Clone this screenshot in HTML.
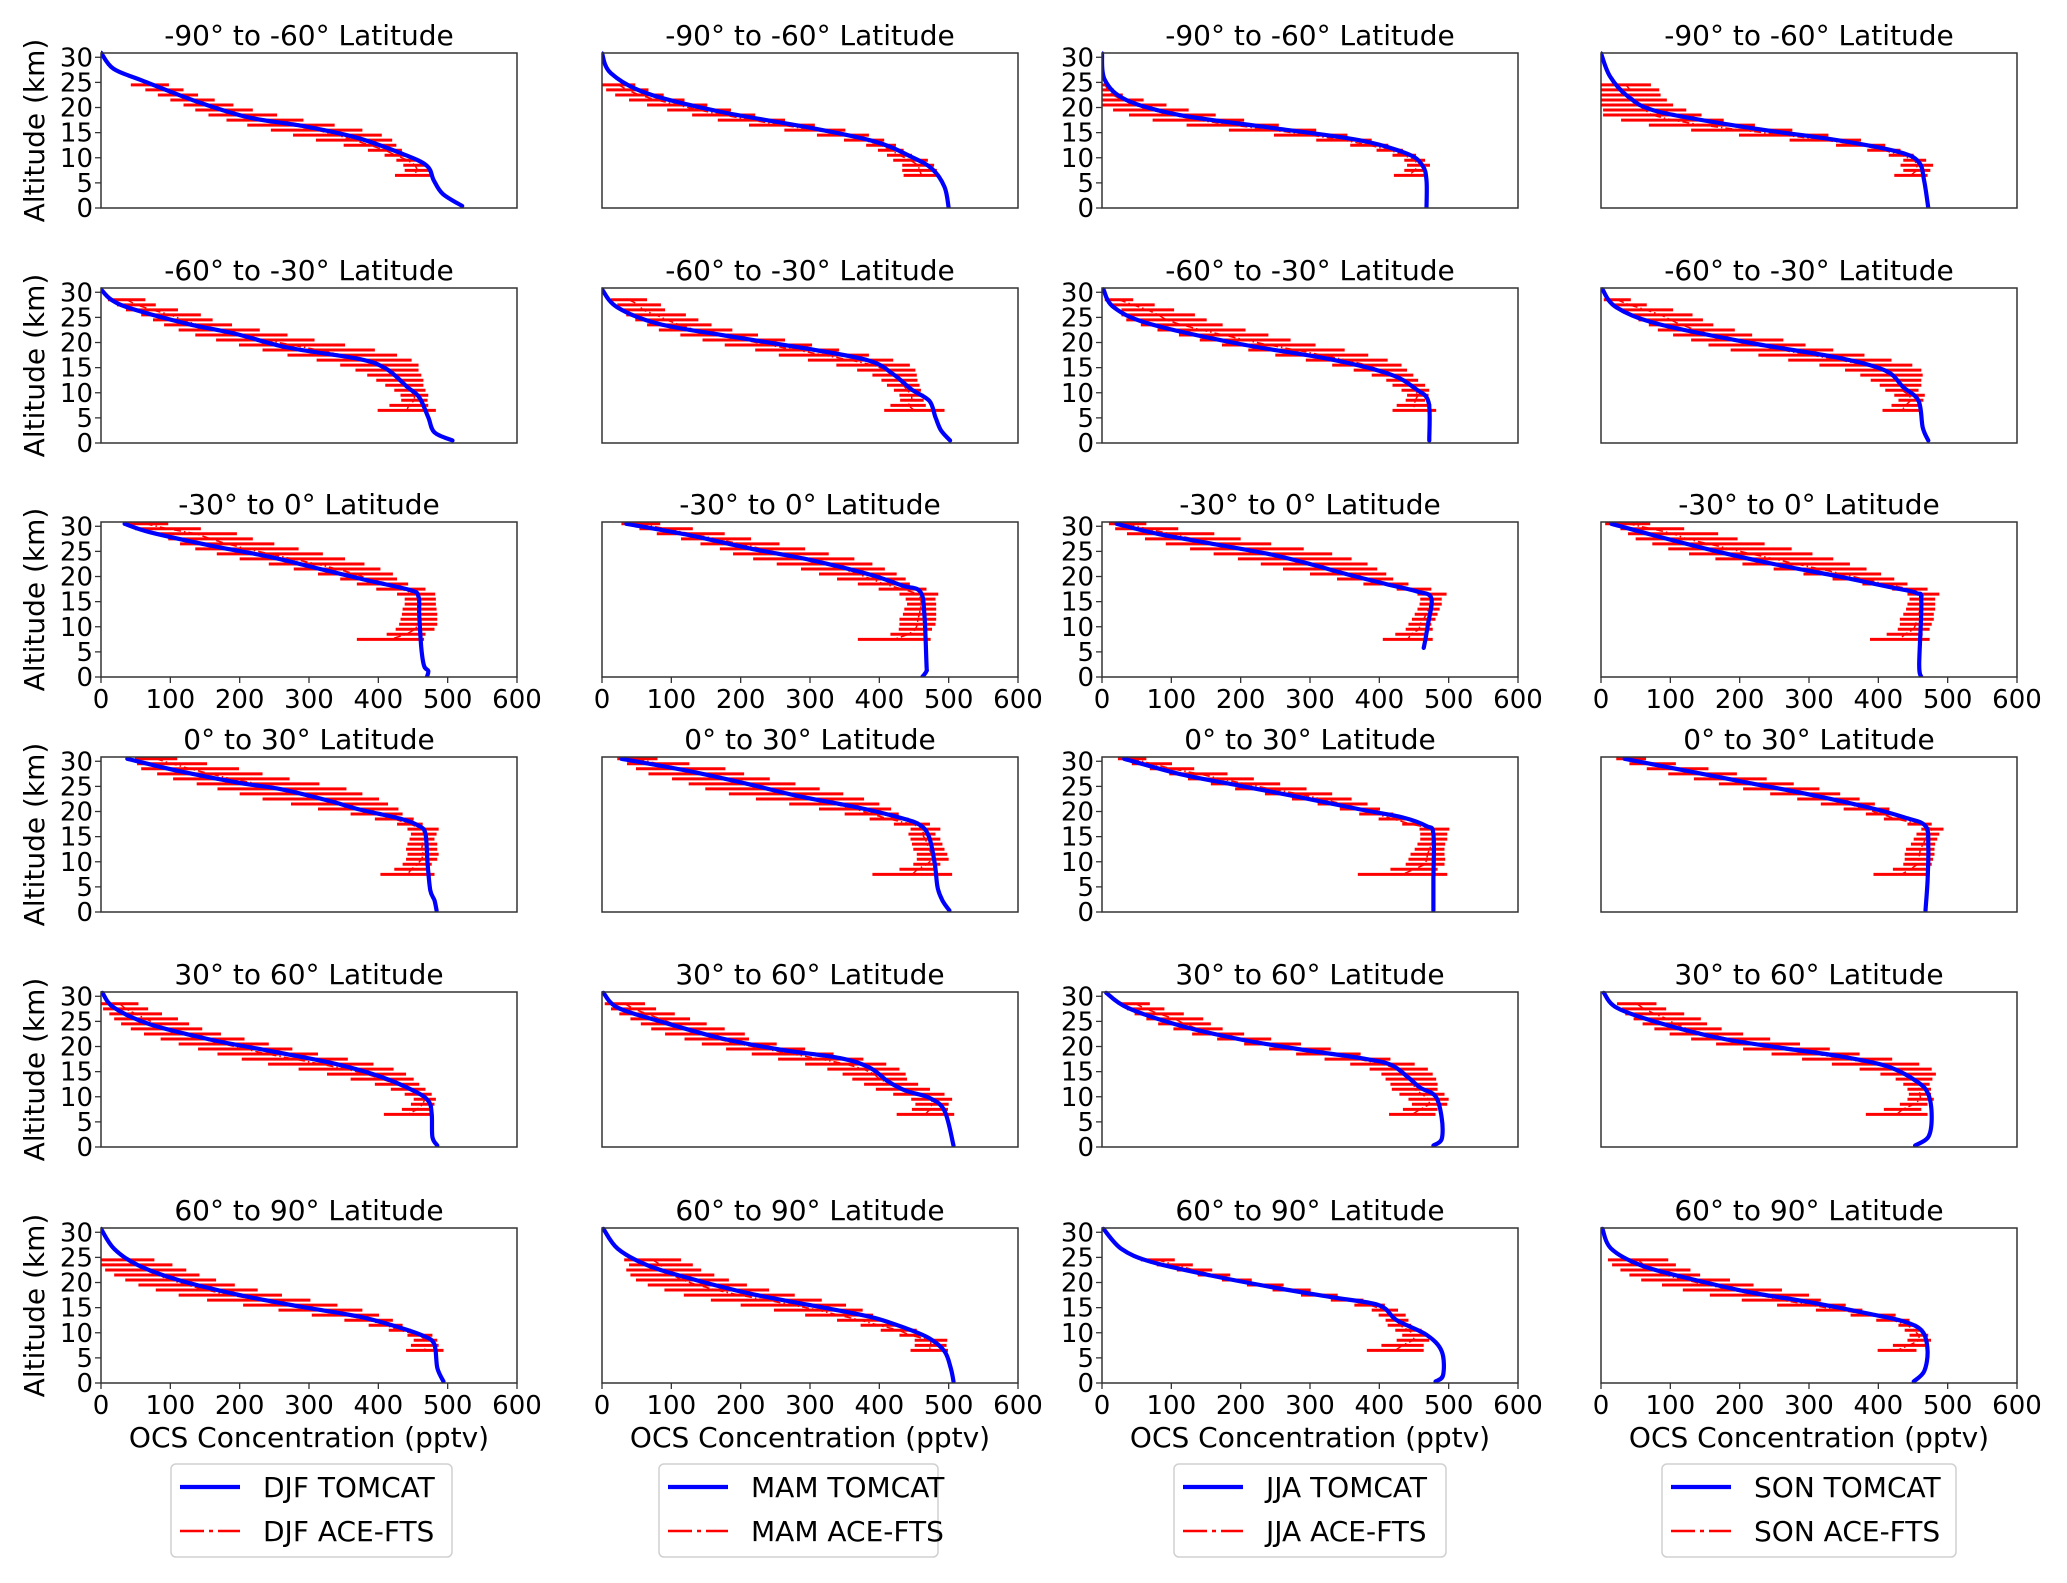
<!DOCTYPE html>
<html><head><meta charset="utf-8">
<style>
html,body{margin:0;padding:0;background:#fff;}
svg{display:block;font-family:"DejaVu Sans","Liberation Sans",sans-serif;}
</style></head>
<body>
<svg id="fig" width="2067" height="1583" viewBox="0 0 2067 1583" xmlns="http://www.w3.org/2000/svg"></svg>
<script>
// ---- data ----
const seasons = ["DJF","MAM","JJA","SON"];
const latBands = ["-90° to -60°","-60° to -30°","-30° to 0°","0° to 30°","30° to 60°","60° to 90°"];
const xTicks = [0,100,200,300,400,500,600];
const yTicks = [0,5,10,15,20,25,30];
const redTopAlt = [24.5,28.5,30.5,30.5,28.5,24.5];
const blueAlt = [
[30.9,27.7,25.4,21,18,16.3,14,10.7,8.4,5.5,2.8,0.4],
[30.8,26.8,22.8,19.2,16,13.2,10.2,7.8,4.2,0],
[30.8,25.5,21.5,18.5,16,13.5,10.8,8.5,5.5,0],
[30.8,26.2,22.2,19.2,16,13.5,11.2,9.2,5.5,0],
[30.6,28.5,26.7,23.7,21.7,19,16.7,14.7,11.1,9.1,5.1,2.1,0.5],
[30.6,27,23.7,21.4,18.7,16.4,13.7,10.7,8.4,5.1,2.5,0.5],
[30.6,27,23.7,19.7,16.7,13.7,10.7,8.1,0.5],
[30.6,27,23.7,20,17,14.4,11.1,8.4,3.1,0.5],
[30.5,28.8,26.2,23.9,21.6,19.3,17.3,16,12.4,5.8,2.2,1.2,0],
[30.5,28.2,25.6,23.3,20.4,18.2,17,12.4,2.5,1.2,0],
[30.5,28.5,26.5,24.5,22.5,20.5,18.5,17,15.7,10.4,5.8,1.2,0],
[30.5,27.9,24.9,22.3,20,17.8,16.7,15,2.5,0],
[30.5,28,25.7,24.4,22.1,20.4,18.5,17.1,15.5,9.6,4.3,2.3,0.3],
[30.5,28,25.4,23.1,20.8,18.8,17.3,14.8,9.6,4.9,2.3,0.3],
[30.5,27.4,25.1,22.8,20.4,18.8,17.1,15.5,6.3,0.3],
[30.5,28,25.7,23.4,20.8,18.8,17.1,12.9,6.3,0.3],
[30.7,27.7,24.4,21.4,19.1,16.8,14.2,11.2,9.2,6.6,2,0.3],
[30.7,27.7,25,21.7,19.4,17.7,15.8,13.1,11.2,9.8,7.2,0.3],
[30.7,27.7,24.1,21.4,19.4,17.7,16.4,13.8,11.8,10.1,5.8,1.6,0.3],
[30.7,27.7,24.7,21.7,19.8,18.1,16.1,13.1,10.5,5.9,2,0.3],
[30.7,26.7,23.4,20.4,17.5,15.2,13.2,10.9,9.2,7.6,3,0.3],
[30.7,26.7,23.4,20.8,17.8,15.5,13.2,10.9,8.9,6.3,3,0.3],
[30.7,26.7,24.1,21.4,19.1,17.1,15.5,12.5,9.6,6.3,1.6,0.3],
[30.7,26.7,23.4,20.8,18.1,16.1,13.8,12.2,10.2,6.3,2.3,0.3]
];
const blueVal = [
[0,18,59,142,214,292,369,436,470,480,493,521],
[0,13,65,169,299,394,446,476,494,500],
[0,4,35,112,242,371,440,462,468,468],
[0,13,39,82,212,341,428,458,466,472],
[0,15,45,125,195,269,373,412,442,459,472,481,507],
[0,22,82,177,299,385,420,446,472,481,489,502],
[2,17,69,199,328,415,453,471,472],
[2,22,82,212,341,410,436,458,464,472],
[34,71,157,244,313,382,446,458,459,462,466,472,470],
[35,127,213,300,386,433,459,465,468,468,462],
[21,80,160,240,300,352,410,455,475,470,464,455],
[15,84,170,256,343,420,455,462,459,462],
[38,114,200,261,330,373,434,459,468,471,475,481,484],
[28,127,213,282,369,429,459,472,480,484,491,501],
[32,114,200,287,373,434,468,478,478,478],
[34,127,213,300,386,438,468,472,471,468],
[2,19,71,157,244,330,399,451,472,477,478,485],
[2,23,84,170,256,343,386,412,438,472,494,507],
[6,37,114,200,287,373,416,442,459,481,490,490,478],
[4,23,84,170,256,343,412,455,472,477,472,453],
[0,19,54,114,200,287,373,434,468,481,485,494],
[2,23,66,127,213,300,386,438,472,494,503,507],
[2,28,71,157,244,330,399,425,468,490,492,481],
[2,15,58,127,213,300,386,438,464,471,466,451]
];
const redLo = [
[43,64,82,100,119,136,155,181,211,245,277,310,350,385,409,426,436,438,424],
[0,6,19,39,65,94,130,167,212,263,310,349,381,398,411,420,433,433,435],
[0,0,0,0,0,16,39,73,122,183,248,309,358,396,419,436,440,436,421],
[0,0,0,0,0,3,3,29,69,130,199,272,339,384,415,436,432,436,423],
[10,23,36,58,75,91,112,136,166,199,233,269,311,345,367,384,397,410,423,432,433,416,399],
[13,22,26,35,48,65,82,113,145,177,221,255,297,338,368,390,403,411,421,429,430,416,407],
[4,13,28,28,35,56,80,111,141,173,211,250,294,332,363,389,410,419,432,440,438,425,419],
[4,15,26,41,54,69,82,104,130,155,187,227,270,315,352,374,389,402,410,423,429,419,406],
[32,49,79,97,114,136,167,200,242,278,313,345,369,397,427,438,438,435,434,432,430,425,412,369],
[28,54,79,114,142,170,189,218,252,287,313,339,369,399,429,438,440,436,434,429,429,428,416,369],
[10,19,36,62,92,127,161,196,229,261,300,339,377,425,455,459,458,455,451,447,442,438,423,405],
[6,28,39,50,74,97,127,165,204,249,292,334,377,420,442,445,442,440,436,431,431,428,412,388],
[49,52,58,81,104,138,168,200,233,274,313,360,395,427,442,447,445,442,440,442,440,435,423,403],
[22,36,49,67,101,125,149,183,222,270,313,350,386,421,445,442,445,447,449,454,454,449,429,390],
[23,43,69,97,124,157,192,235,274,311,343,371,399,433,458,459,459,455,451,445,442,438,416,369],
[22,41,66,97,134,170,205,244,283,317,350,382,408,442,462,455,451,447,440,438,438,436,421,393],
[0,3,12,19,29,43,62,86,112,140,168,203,241,285,326,360,395,418,438,451,447,434,408],
[4,13,25,41,56,71,91,119,144,179,216,254,293,325,347,361,378,395,420,446,452,447,425],
[28,36,47,64,81,103,130,166,205,241,280,321,358,386,403,409,416,418,429,442,447,434,414],
[23,30,35,47,60,77,99,130,166,205,246,290,333,373,403,425,436,442,444,442,431,408,382],
[0,0,6,19,35,54,79,112,153,205,256,304,351,386,415,442,451,447,440],
[32,39,35,41,49,66,90,118,157,200,248,293,339,373,402,429,451,451,445],
[56,79,108,138,173,209,246,287,330,364,389,399,409,412,423,433,425,403,382],
[10,16,28,41,58,88,118,157,203,254,310,360,397,429,438,445,442,421,399]
];
const redHi = [
[98,119,140,164,191,219,254,292,337,377,405,420,426,434,441,459,470,475,477],
[48,67,89,119,152,186,221,264,307,351,385,407,424,435,447,470,479,483,487],
[9,17,30,60,93,125,164,205,255,309,354,389,413,434,453,466,473,466,465],
[72,84,86,95,104,123,145,177,222,276,328,375,410,432,451,469,479,475,471],
[64,79,111,144,161,189,229,269,308,352,395,427,448,458,458,462,465,465,468,472,471,472,483],
[65,85,91,121,139,158,188,225,264,303,342,385,420,444,452,454,455,458,460,464,464,467,494],
[45,76,104,134,151,174,207,240,272,308,350,384,412,432,440,449,456,466,472,471,466,475,482],
[43,66,104,132,147,162,193,218,263,295,335,380,419,449,462,464,462,462,458,467,465,460,462],
[97,144,196,219,250,285,320,352,380,403,421,427,443,468,482,483,483,484,485,485,485,481,468,466],
[84,131,177,215,256,293,327,364,390,408,425,438,444,468,485,481,482,482,482,482,481,476,468,474],
[64,110,162,200,244,291,332,360,383,397,410,420,442,475,497,490,490,487,484,481,475,477,468,477],
[71,120,169,197,236,275,305,335,359,383,404,423,442,471,488,482,482,482,480,480,477,474,464,474],
[110,153,199,233,272,315,354,377,401,414,429,435,451,464,487,484,481,485,485,487,485,477,472,481],
[80,126,178,205,242,279,314,348,378,400,417,428,442,473,488,481,488,491,494,498,500,488,481,505],
[64,101,133,181,219,257,295,332,360,383,401,420,442,458,501,498,498,495,494,494,495,494,484,498],
[65,108,155,196,239,278,315,345,373,395,416,425,445,477,494,488,485,482,481,481,479,477,471,474],
[54,68,88,111,127,146,173,207,242,276,313,356,393,422,440,451,459,468,477,483,481,478,478],
[62,78,105,127,151,177,206,212,252,293,334,377,410,429,438,440,456,473,494,505,500,499,508],
[69,90,118,146,157,174,205,244,287,330,373,416,451,470,477,482,484,484,494,500,498,484,481],
[80,94,120,144,153,174,205,244,287,330,373,420,459,477,483,478,474,476,476,480,471,462,471],
[77,103,123,142,166,193,226,261,302,341,377,401,421,435,447,478,485,487,494],
[114,131,143,162,183,209,241,278,317,352,376,391,406,425,454,461,498,497,499],
[105,131,159,185,216,262,301,340,377,408,427,438,442,446,461,470,472,464,464],
[97,108,129,143,186,220,261,300,317,353,377,425,445,455,465,472,476,468,455]
];

// ---- layout ----
const NS = "http://www.w3.org/2000/svg";
const svg = document.getElementById('fig');
const colLeft = [101,602,1102,1601];
const PW = 416, PH = 155;
const rowTop = [53,288,522,757,992,1228];
const XMAX = 600, YMAX = 30.85;

function mk(tag, attrs, parent){
  const e = document.createElementNS(NS, tag);
  for (const k in attrs) e.setAttribute(k, attrs[k]);
  (parent||svg).appendChild(e);
  return e;
}
function smoothPath(pts){
  let d = "M"+pts[0][0].toFixed(1)+","+pts[0][1].toFixed(1);
  for (let i=0;i<pts.length-1;i++){
    const p0 = pts[i-1]||pts[i], p1=pts[i], p2=pts[i+1], p3=pts[i+2]||pts[i+1];
    const c1x=p1[0]+(p2[0]-p0[0])/6, c1y=p1[1]+(p2[1]-p0[1])/6;
    const c2x=p2[0]-(p3[0]-p1[0])/6, c2y=p2[1]-(p3[1]-p1[1])/6;
    d += " C"+c1x.toFixed(1)+","+c1y.toFixed(1)+" "+c2x.toFixed(1)+","+c2y.toFixed(1)+" "+p2[0].toFixed(1)+","+p2[1].toFixed(1);
  }
  return d;
}

for (let r=0;r<6;r++){
  for (let c=0;c<4;c++){
    const p = r*4+c;
    const L = colLeft[c], T = rowTop[r];
    const xs = v => L + v/XMAX*PW;
    const ys = a => T + PH - a/YMAX*PH;
    const g = mk('g', {});
    
    

    const title = mk('text', {x: L+PW/2, y: T-8, 'text-anchor':'middle', 'font-size':28, fill:'#000'}, g);
    title.textContent = latBands[r] + " Latitude";
    
    

    const clipId = 'clip'+p;
    const cp = mk('clipPath', {id: clipId}, g);
    mk('rect', {x:L, y:T-3, width:PW, height:PH+3}, cp);
    const plot = mk('g', {'clip-path':'url(#'+clipId+')'}, g);

    const lo = redLo[p], hi = redHi[p];
    const centers = [];
    for (let i=0;i<lo.length;i++){
      const a = redTopAlt[r]-i;
      const bar = mk('line', {x1: xs(lo[i]), x2: xs(hi[i]), y1: ys(a), y2: ys(a), stroke:'#ff0000', 'stroke-width':3}, plot);
      
      
      centers.push([xs((lo[i]+hi[i])/2), ys(a)]);
    }
    const cl = mk('polyline', {points: centers.map(q=>q[0].toFixed(1)+","+q[1].toFixed(1)).join(" "), fill:'none', stroke:'#ff0000', 'stroke-width':1.5, 'stroke-dasharray':'7,3,1.5,3'}, plot);
    
    

    const pts = blueAlt[p].map((a,i)=>[xs(blueVal[p][i]), ys(a)]);
    const bl = mk('path', {d: smoothPath(pts), fill:'none', stroke:'#0000ff', 'stroke-width':4.2, 'stroke-linejoin':'round', 'stroke-linecap':'round'}, plot);
    
    

    const fr = mk('rect', {x:L, y:T, width:PW, height:PH, fill:'none', stroke:'#333', 'stroke-width':1.5}, g);
    
    

    if (c===0 || c===2){
      yTicks.forEach(t=>{
        mk('line', {x1:L-6, x2:L, y1:ys(t), y2:ys(t), stroke:'#333', 'stroke-width':1.3}, g);
        const tl = mk('text', {x:L-8, y:ys(t)+9, 'text-anchor':'end', 'font-size':26, fill:'#000'}, g);
        tl.textContent = t;
        
        
      });
    }
    if (c===0){
      const yl = mk('text', {x:0, y:0, transform:'translate(44,'+(T+PH/2)+') rotate(-90)', 'text-anchor':'middle', 'font-size':28, fill:'#000'}, g);
      yl.textContent = "Altitude (km)";
      
      
    }
    if (r===2 || r===5){
      xTicks.forEach(t=>{
        mk('line', {x1:xs(t), x2:xs(t), y1:T+PH, y2:T+PH+6, stroke:'#333', 'stroke-width':1.3}, g);
        const tl = mk('text', {x:xs(t), y:T+PH+31, 'text-anchor':'middle', 'font-size':26, fill:'#000'}, g);
        tl.textContent = t;
        
        
      });
    }
    if (r===5){
      const xl = mk('text', {x:L+PW/2, y:T+PH+64, 'text-anchor':'middle', 'font-size':28, fill:'#000'}, g);
      xl.textContent = "OCS Concentration (pptv)";
      
      
    }
  }
}

const legX = [171,659,1174,1662];
const legW = [281,279,272,294];
for (let c=0;c<4;c++){
  const g = mk('g', {});
  
  
  mk('rect', {x:legX[c], y:1464, width:legW[c], height:93, rx:5, fill:'#fff', stroke:'#d0d0d0', 'stroke-width':1.5}, g);
  const x0 = legX[c]+9;
  const l1 = mk('line', {x1:x0, x2:x0+60, y1:1487, y2:1487, stroke:'#0000ff', 'stroke-width':4.2}, g);
  
  
  const t1 = mk('text', {x:legX[c]+92, y:1497, 'font-size':28, fill:'#000'}, g);
  t1.textContent = seasons[c]+" TOMCAT";
  
  
  const l2 = mk('line', {x1:x0, x2:x0+60, y1:1531, y2:1531, stroke:'#ff0000', 'stroke-width':2.5, 'stroke-dasharray':'24,5,4,5'}, g);
  
  
  const t2 = mk('text', {x:legX[c]+92, y:1541, 'font-size':28, fill:'#000'}, g);
  t2.textContent = seasons[c]+" ACE-FTS";
  
  
}
</script>
</body></html>
